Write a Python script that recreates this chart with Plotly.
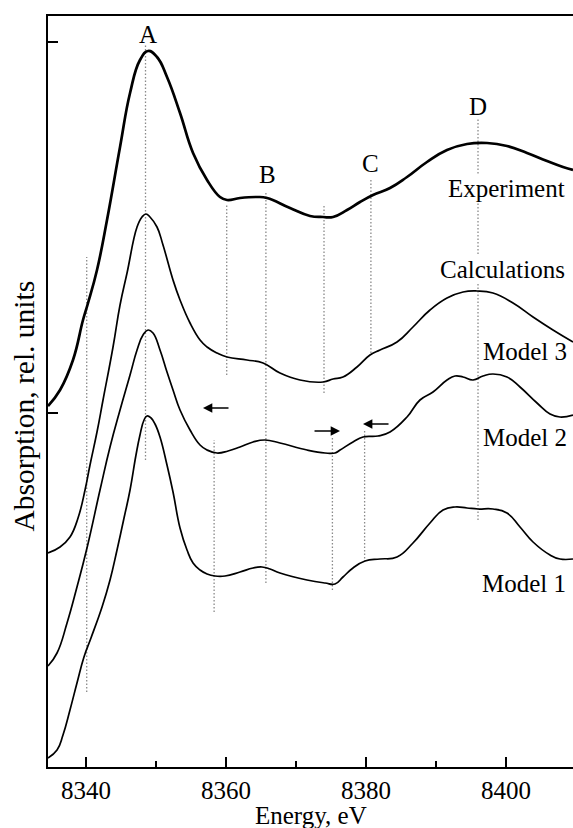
import plotly.graph_objects as go

# ---------------- data (energy in eV, absorption in rel. units) ----------------
E_exp = [8334.57, 8336.29, 8338.14, 8339.57, 8340.29, 8341.57, 8343.0, 8344.86, 8346.29, 8347.71,
         8348.86, 8350.14, 8351.57, 8353.43, 8355.29, 8357.29, 8359.14, 8360.14, 8362.0, 8364.43,
         8365.86, 8369.14, 8372.0, 8373.86, 8375.29, 8377.29, 8379.14, 8381.0, 8383.43, 8385.86,
         8388.71, 8391.57, 8394.43, 8397.29, 8400.14, 8403.0, 8405.86, 8408.14, 8409.57]
A_exp = [3.61, 3.77, 4.07, 4.47, 4.64, 4.97, 5.47, 6.20, 6.74, 7.07,
         7.16, 7.10, 6.90, 6.54, 6.14, 5.87, 5.70, 5.67, 5.69, 5.70,
         5.69, 5.59, 5.51, 5.50, 5.50, 5.57, 5.65, 5.72, 5.79, 5.90,
         6.05, 6.17, 6.23, 6.24, 6.21, 6.14, 6.06, 6.00, 5.97]

E_m3 = [8334.57, 8336.29, 8337.71, 8338.86, 8339.86, 8340.57, 8341.57, 8342.43, 8343.86, 8344.86,
        8345.86, 8347.29, 8348.0, 8348.57, 8349.14, 8350.14, 8351.0, 8352.43, 8353.43, 8354.86,
        8356.29, 8357.29, 8358.71, 8360.14, 8363.0, 8365.29, 8367.71, 8370.57, 8373.86, 8375.29,
        8376.71, 8378.71, 8380.57, 8382.0, 8384.43, 8386.71, 8389.14, 8391.57, 8393.86, 8395.86,
        8398.14, 8401.0, 8403.86, 8406.71, 8409.57]
A_m3 = [2.14, 2.20, 2.30, 2.49, 2.77, 3.02, 3.35, 3.67, 4.20, 4.62,
        4.94, 5.40, 5.50, 5.53, 5.50, 5.40, 5.22, 4.87, 4.67, 4.44,
        4.27, 4.20, 4.14, 4.10, 4.07, 4.04, 3.94, 3.87, 3.85, 3.88,
        3.90, 4.00, 4.12, 4.17, 4.25, 4.40, 4.57, 4.69, 4.75, 4.76,
        4.74, 4.64, 4.50, 4.37, 4.25]

E_m2 = [8334.57, 8335.86, 8337.29, 8338.71, 8340.14, 8342.0, 8343.43, 8344.86, 8346.29, 8347.29,
        8348.14, 8348.86, 8349.57, 8350.57, 8351.57, 8352.43, 8353.43, 8354.86, 8356.29, 8357.29,
        8358.71, 8360.29, 8362.0, 8363.86, 8365.57, 8367.71, 8371.57, 8374.14, 8375.57, 8376.29,
        8378.14, 8379.57, 8381.71, 8383.43, 8385.86, 8387.71, 8389.57, 8391.57, 8392.71, 8393.86,
        8395.29, 8396.71, 8398.14, 8400.14, 8402.0, 8404.43, 8406.29, 8407.71, 8409.57]
A_m2 = [1.01, 1.14, 1.44, 1.80, 2.19, 2.77, 3.20, 3.57, 3.92, 4.17,
        4.32, 4.37, 4.34, 4.17, 3.95, 3.77, 3.57, 3.37, 3.22, 3.17,
        3.14, 3.16, 3.20, 3.25, 3.27, 3.24, 3.17, 3.14, 3.14, 3.17,
        3.25, 3.30, 3.31, 3.35, 3.50, 3.67, 3.75, 3.87, 3.91, 3.90,
        3.87, 3.91, 3.93, 3.90, 3.80, 3.64, 3.53, 3.50, 3.52]

E_m1 = [8334.57, 8335.86, 8336.71, 8337.71, 8338.71, 8339.71, 8340.71, 8342.29, 8343.43, 8344.43,
        8345.43, 8346.29, 8347.14, 8347.71, 8348.29, 8348.71, 8349.29, 8349.86, 8350.57, 8351.57,
        8352.43, 8353.43, 8354.43, 8355.29, 8356.29, 8357.29, 8358.43, 8359.86, 8362.0, 8363.86,
        8365.14, 8366.29, 8367.71, 8371.57, 8374.14, 8375.57, 8376.71, 8378.14, 8379.86, 8382.0,
        8384.43, 8386.71, 8389.14, 8391.0, 8392.71, 8394.43, 8396.0, 8398.14, 8400.14, 8402.0,
        8403.86, 8406.29, 8407.71, 8409.57]
A_m1 = [0.09, 0.17, 0.32, 0.57, 0.84, 1.10, 1.29, 1.60, 1.87, 2.17,
        2.49, 2.77, 3.12, 3.32, 3.47, 3.51, 3.49, 3.43, 3.30, 3.02,
        2.75, 2.39, 2.17, 2.04, 1.97, 1.93, 1.91, 1.91, 1.95, 1.99,
        2.00, 1.98, 1.94, 1.87, 1.84, 1.83, 1.90, 1.99, 2.06, 2.08,
        2.10, 2.24, 2.44, 2.57, 2.60, 2.59, 2.58, 2.58, 2.54, 2.40,
        2.25, 2.12, 2.08, 2.08]

# dotted guide lines: energy, upper and lower end
guide_E = [8340.1, 8348.5, 8360.1, 8365.7, 8358.3, 8374.0, 8380.7, 8375.2, 8379.8, 8396.0]
guide_top = [5.10, 7.22, 5.62, 5.75, 3.27, 5.62, 5.89, 3.30, 3.37, 6.49]
guide_bot = [0.75, 3.07, 3.92, 1.84, 1.55, 3.74, 4.14, 1.77, 2.05, 2.47]

# peak letters
peak_labels = ["A", "B", "C", "D"]
peak_E = [8348.86, 8365.86, 8380.71, 8396.0]
peak_A = [7.33, 5.93, 6.04, 6.61]

# curve labels (right-aligned)
curve_labels = ["Experiment", "Calculations", "Model 3", "Model 2", "Model 1"]
curve_lab_E = [8408.57, 8408.57, 8408.86, 8408.86, 8408.71]
curve_lab_A = [5.79, 4.98, 4.16, 3.30, 1.84]

# shift arrows: head energy, tail energy, level
arrow_head_E = [8356.71, 8376.29, 8379.57]
arrow_tail_E = [8360.57, 8372.43, 8383.43]
arrow_A = [3.59, 3.36, 3.43]

x_ticks = [8340, 8360, 8380, 8400]
x_minor = [8350, 8370, 8390]
y_ticks = [3.54, 7.25]

FONT = "Liberation Serif"

fig = go.Figure()

for e, t, b in zip(guide_E, guide_top, guide_bot):
    fig.add_trace(go.Scatter(x=[e, e], y=[b, t], mode="lines",
                             line=dict(color="#8a8a8a", width=1.3, dash="1.5px,2px"),
                             hoverinfo="skip", showlegend=False))

for E, A, w in [(E_m1, A_m1, 1.7), (E_m2, A_m2, 1.7), (E_m3, A_m3, 1.7), (E_exp, A_exp, 2.7)]:
    fig.add_trace(go.Scatter(x=E, y=A, mode="lines",
                             line=dict(color="black", width=w, shape="spline", smoothing=1.3),
                             showlegend=False))

annotations = []
for lab, e, a in zip(peak_labels, peak_E, peak_A):
    annotations.append(dict(x=e, y=a, xref="x", yref="y", text=lab, showarrow=False,
                            xanchor="center", yanchor="middle",
                            font=dict(family=FONT, size=25, color="black")))
for i, (lab, e, a) in enumerate(zip(curve_labels, curve_lab_E, curve_lab_A)):
    annotations.append(dict(x=e, y=a, xref="x", yref="y", text=lab, showarrow=False,
                            xanchor="right", yanchor="middle", borderpad=0,
                            bgcolor="white" if i < 2 else "rgba(0,0,0,0)",
                            font=dict(family=FONT, size=25, color="black")))
for h, t, a in zip(arrow_head_E, arrow_tail_E, arrow_A):
    annotations.append(dict(x=h, y=a, ax=t, ay=a, xref="x", yref="y", axref="x", ayref="y",
                            text="", showarrow=True, arrowhead=2, arrowsize=1.1,
                            arrowwidth=1.7, arrowcolor="black", standoff=0, startstandoff=0))
annotations.append(dict(x=0.5, y=-0.064, xref="paper", yref="paper", text="Energy, eV",
                        showarrow=False, xanchor="center", yanchor="middle",
                        font=dict(family=FONT, size=25, color="black")))
annotations.append(dict(x=-0.0457, y=0.48, xref="paper", yref="paper",
                        text="Absorption, rel. units", textangle=-90,
                        showarrow=False, xanchor="center", yanchor="middle",
                        font=dict(family=FONT, size=29.5, color="black")))

fig.update_layout(
    width=573, height=828,
    margin=dict(l=48, r=0, t=16, b=61, pad=0),
    paper_bgcolor="white", plot_bgcolor="white",
    showlegend=False,
    annotations=annotations,
    font=dict(family=FONT, size=25, color="black"),
)
fig.update_xaxes(range=[8334.57, 8409.57], showline=True, linewidth=2, linecolor="black",
                 mirror=True, ticks="inside", ticklen=10, tickwidth=2, tickcolor="black",
                 tickvals=x_ticks, ticktext=[str(v) for v in x_ticks],
                 tickfont=dict(family=FONT, size=25, color="black"),
                 minor=dict(tickvals=x_minor, ticks="inside", ticklen=6, tickwidth=2,
                            tickcolor="black"),
                 showgrid=False, zeroline=False)
fig.update_yaxes(range=[0, 7.51], showline=True, linewidth=2, linecolor="black",
                 ticks="inside", ticklen=10, tickwidth=2, tickcolor="black",
                 tickvals=y_ticks, showticklabels=False,
                 showgrid=False, zeroline=False)

fig.write_html("out.html")
